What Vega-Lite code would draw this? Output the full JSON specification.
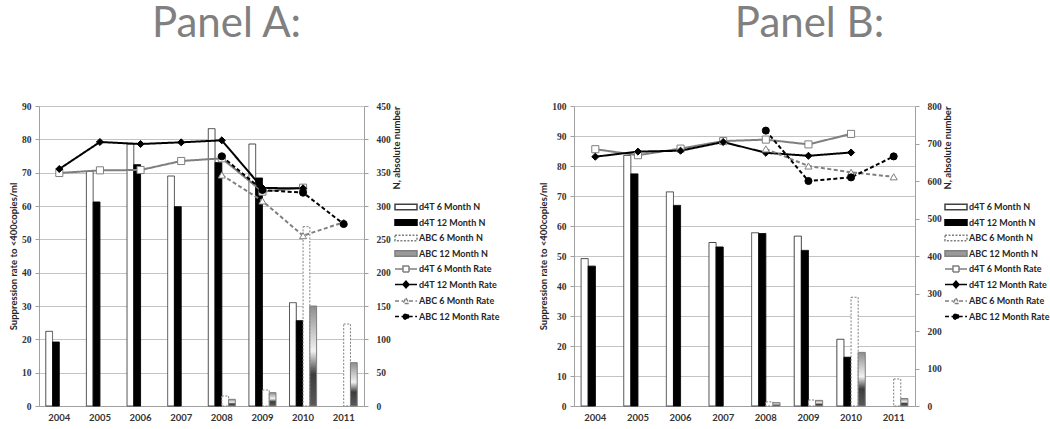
{
  "$schema": "https://vega.github.io/schema/vega-lite/v6.json",
  "padding": {"left": 8, "top": 3, "right": 0, "bottom": 0},
  "autosize": {"type": "pad"},
  "spacing": 38,
  "config": {
    "view": {"stroke": null},
    "font": "Lato",
    "axisX": {"title": null, "labelAngle": 0, "ticks": false, "labelFont": "Lato", "labelFontSize": 9.5, "labelFontWeight": "bold", "labelColor": "#333333", "labelPadding": 6, "domainColor": "#a0a0a0"},
    "axisY": {"labelFont": "Liberation Serif", "labelFontSize": 9.5, "labelFontWeight": "bold", "labelColor": "#333333", "tickSize": 4, "tickColor": "#a0a0a0", "domainColor": "#a0a0a0", "gridColor": "#c4c4c4", "titleFont": "Lato", "titleFontSize": 9.5, "titleFontWeight": "bold", "titleColor": "#262626", "labelOverlap": false},
    "legend": {"labelFont": "Lato", "labelFontSize": 9, "labelFontWeight": "bold", "labelColor": "#262626", "symbolSize": 144, "symbolStrokeWidth": 1.5, "rowPadding": 2.5, "labelOffset": 10}
  },
  "datasets": {
    "barsA": [
      {"year": "2004", "series": "d4T 6 Month N", "n": 112},
      {"year": "2005", "series": "d4T 6 Month N", "n": 352},
      {"year": "2006", "series": "d4T 6 Month N", "n": 393},
      {"year": "2007", "series": "d4T 6 Month N", "n": 345},
      {"year": "2008", "series": "d4T 6 Month N", "n": 416},
      {"year": "2009", "series": "d4T 6 Month N", "n": 393},
      {"year": "2010", "series": "d4T 6 Month N", "n": 155},
      {"year": "2004", "series": "d4T 12 Month N", "n": 96},
      {"year": "2005", "series": "d4T 12 Month N", "n": 306},
      {"year": "2006", "series": "d4T 12 Month N", "n": 362},
      {"year": "2007", "series": "d4T 12 Month N", "n": 299},
      {"year": "2008", "series": "d4T 12 Month N", "n": 365},
      {"year": "2009", "series": "d4T 12 Month N", "n": 342},
      {"year": "2010", "series": "d4T 12 Month N", "n": 128},
      {"year": "2008", "series": "ABC 6 Month N", "n": 15},
      {"year": "2009", "series": "ABC 6 Month N", "n": 24},
      {"year": "2010", "series": "ABC 6 Month N", "n": 269},
      {"year": "2011", "series": "ABC 6 Month N", "n": 123},
      {"year": "2008", "series": "ABC 12 Month N", "n": 10},
      {"year": "2009", "series": "ABC 12 Month N", "n": 20},
      {"year": "2010", "series": "ABC 12 Month N", "n": 150},
      {"year": "2011", "series": "ABC 12 Month N", "n": 65}
    ],
    "ratesA": [
      {"year": "2004", "series": "d4T 6 Month Rate", "rate": 69.9},
      {"year": "2005", "series": "d4T 6 Month Rate", "rate": 70.7},
      {"year": "2006", "series": "d4T 6 Month Rate", "rate": 70.8},
      {"year": "2007", "series": "d4T 6 Month Rate", "rate": 73.5},
      {"year": "2008", "series": "d4T 6 Month Rate", "rate": 74.3},
      {"year": "2009", "series": "d4T 6 Month Rate", "rate": 64.3},
      {"year": "2010", "series": "d4T 6 Month Rate", "rate": 65.5},
      {"year": "2004", "series": "d4T 12 Month Rate", "rate": 71.1},
      {"year": "2005", "series": "d4T 12 Month Rate", "rate": 79.2},
      {"year": "2006", "series": "d4T 12 Month Rate", "rate": 78.6},
      {"year": "2007", "series": "d4T 12 Month Rate", "rate": 79.1},
      {"year": "2008", "series": "d4T 12 Month Rate", "rate": 79.7},
      {"year": "2009", "series": "d4T 12 Month Rate", "rate": 65.4},
      {"year": "2010", "series": "d4T 12 Month Rate", "rate": 65.3},
      {"year": "2008", "series": "ABC 6 Month Rate", "rate": 69.3},
      {"year": "2009", "series": "ABC 6 Month Rate", "rate": 61.5},
      {"year": "2010", "series": "ABC 6 Month Rate", "rate": 51.1},
      {"year": "2011", "series": "ABC 6 Month Rate", "rate": 55.1},
      {"year": "2008", "series": "ABC 12 Month Rate", "rate": 74.9},
      {"year": "2009", "series": "ABC 12 Month Rate", "rate": 64.8},
      {"year": "2010", "series": "ABC 12 Month Rate", "rate": 64.0},
      {"year": "2011", "series": "ABC 12 Month Rate", "rate": 54.6}
    ],
    "barsB": [
      {"year": "2004", "series": "d4T 6 Month N", "n": 393},
      {"year": "2005", "series": "d4T 6 Month N", "n": 668},
      {"year": "2006", "series": "d4T 6 Month N", "n": 571},
      {"year": "2007", "series": "d4T 6 Month N", "n": 436},
      {"year": "2008", "series": "d4T 6 Month N", "n": 462},
      {"year": "2009", "series": "d4T 6 Month N", "n": 453},
      {"year": "2010", "series": "d4T 6 Month N", "n": 178},
      {"year": "2004", "series": "d4T 12 Month N", "n": 373},
      {"year": "2005", "series": "d4T 12 Month N", "n": 619},
      {"year": "2006", "series": "d4T 12 Month N", "n": 535},
      {"year": "2007", "series": "d4T 12 Month N", "n": 424},
      {"year": "2008", "series": "d4T 12 Month N", "n": 460},
      {"year": "2009", "series": "d4T 12 Month N", "n": 415},
      {"year": "2010", "series": "d4T 12 Month N", "n": 130},
      {"year": "2008", "series": "ABC 6 Month N", "n": 11},
      {"year": "2009", "series": "ABC 6 Month N", "n": 16},
      {"year": "2010", "series": "ABC 6 Month N", "n": 290},
      {"year": "2011", "series": "ABC 6 Month N", "n": 72},
      {"year": "2008", "series": "ABC 12 Month N", "n": 9},
      {"year": "2009", "series": "ABC 12 Month N", "n": 15},
      {"year": "2010", "series": "ABC 12 Month N", "n": 143},
      {"year": "2011", "series": "ABC 12 Month N", "n": 20}
    ],
    "ratesB": [
      {"year": "2004", "series": "d4T 6 Month Rate", "rate": 85.6},
      {"year": "2005", "series": "d4T 6 Month Rate", "rate": 83.6},
      {"year": "2006", "series": "d4T 6 Month Rate", "rate": 85.8},
      {"year": "2007", "series": "d4T 6 Month Rate", "rate": 88.3},
      {"year": "2008", "series": "d4T 6 Month Rate", "rate": 88.8},
      {"year": "2009", "series": "d4T 6 Month Rate", "rate": 87.2},
      {"year": "2010", "series": "d4T 6 Month Rate", "rate": 90.7},
      {"year": "2004", "series": "d4T 12 Month Rate", "rate": 83.1},
      {"year": "2005", "series": "d4T 12 Month Rate", "rate": 84.8},
      {"year": "2006", "series": "d4T 12 Month Rate", "rate": 85.1},
      {"year": "2007", "series": "d4T 12 Month Rate", "rate": 88.0},
      {"year": "2008", "series": "d4T 12 Month Rate", "rate": 84.4},
      {"year": "2009", "series": "d4T 12 Month Rate", "rate": 83.4},
      {"year": "2010", "series": "d4T 12 Month Rate", "rate": 84.5},
      {"year": "2008", "series": "ABC 6 Month Rate", "rate": 85.7},
      {"year": "2009", "series": "ABC 6 Month Rate", "rate": 80.0},
      {"year": "2010", "series": "ABC 6 Month Rate", "rate": 77.9},
      {"year": "2011", "series": "ABC 6 Month Rate", "rate": 76.4},
      {"year": "2008", "series": "ABC 12 Month Rate", "rate": 91.8},
      {"year": "2009", "series": "ABC 12 Month Rate", "rate": 75.0},
      {"year": "2010", "series": "ABC 12 Month Rate", "rate": 76.2},
      {"year": "2011", "series": "ABC 12 Month Rate", "rate": 83.2}
    ]
  },
  "resolve": {
    "scale": {"x": "independent", "y": "independent", "xOffset": "independent", "fill": "independent", "stroke": "independent", "strokeDash": "independent", "shape": "independent"},
    "legend": {"fill": "independent", "stroke": "independent", "strokeDash": "independent", "shape": "independent"}
  },
  "hconcat": [
    {
      "title": {"text": "Panel A:", "fontSize": 42, "font": "Lato", "fontWeight": "normal", "color": "#808080", "anchor": "middle", "frame": "group", "dx": 25, "offset": 22, "baseline": "alphabetic"},
      "width": 325,
      "height": 300,
      "layer": [
        {
          "layer": [
            {
              "data": {"name": "barsA"},
              "transform": [{"filter": "datum.series !== 'ABC 12 Month N'"}],
              "mark": {"type": "bar", "strokeWidth": 1},
              "encoding": {
                "x": {"field": "year", "type": "nominal", "scale": {"domain": ["2004","2005","2006","2007","2008","2009","2010","2011"], "paddingInner": 0, "paddingOuter": 0}},
                "xOffset": {"field": "series", "scale": {"domain": ["d4T 6 Month N","d4T 12 Month N","ABC 6 Month N","ABC 12 Month N"], "paddingInner": 0, "paddingOuter": 1.125}},
                "y": {"field": "n", "type": "quantitative", "scale": {"domain": [0, 450], "nice": false}, "axis": {"orient": "right", "values": [0,50,100,150,200,250,300,350,400,450], "grid": false, "title": "N, absolute number", "titleAngle": 270, "titleAnchor": "end", "titlePadding": 11, "labelPadding": 8}},
                "fill": {"field": "series", "scale": {"domain": ["d4T 6 Month N","d4T 12 Month N","ABC 6 Month N","ABC 12 Month N","d4T 6 Month Rate","d4T 12 Month Rate","ABC 6 Month Rate","ABC 12 Month Rate"], "range": ["#ffffff","#000000","#ffffff","#9a9a9a","#ffffff","#000000","#ffffff","#000000"]}, "legend": {"title": null, "orient": "none", "legendX": 356, "legendY": 94, "encode": {"symbols": {"update": {"shape": {"signal": "datum.value == 'd4T 6 Month Rate' ? 'M-1.167,0H0.167M1.167,0H2.5M0.167,-0.5H1.167V0.5H0.167Z' : datum.value == 'd4T 12 Month Rate' ? 'M-1.167,0H0.167M1.167,0H2.5M0.667,-0.55L1.167,0L0.667,0.55L0.167,0Z' : datum.value == 'ABC 6 Month Rate' ? 'M-1.167,0H0.167M1.167,0H2.5M0.667,-0.5L1.167,0.4L0.167,0.4Z' : datum.value == 'ABC 12 Month Rate' ? 'M-1.167,0H0.217M1.117,0H2.5M0.217,0A0.45,0.45 0 1,0 1.117,0A0.45,0.45 0 1,0 0.217,0Z' : 'M-1.167,-0.45H2.5V0.45H-1.167Z'"}}}}}},
                "stroke": {"field": "series", "scale": {"domain": ["d4T 6 Month N","d4T 12 Month N","ABC 6 Month N","ABC 12 Month N","d4T 6 Month Rate","d4T 12 Month Rate","ABC 6 Month Rate","ABC 12 Month Rate"], "range": ["#404040","#000000","#7f7f7f","#7f7f7f","#7f7f7f","#000000","#7f7f7f","#000000"]}, "legend": {"title": null, "orient": "none", "legendX": 356, "legendY": 94}},
                "strokeDash": {"field": "series", "scale": {"domain": ["d4T 6 Month N","d4T 12 Month N","ABC 6 Month N","ABC 12 Month N","d4T 6 Month Rate","d4T 12 Month Rate","ABC 6 Month Rate","ABC 12 Month Rate"], "range": [[1,0],[1,0],[2,1.5],[1,0],[1,0],[1,0],[4,2.5],[4,2.5]]}, "legend": {"title": null, "orient": "none", "legendX": 356, "legendY": 94}}
              }
            },
            {
              "data": {"name": "barsA"},
              "transform": [{"filter": "datum.series === 'ABC 12 Month N'"}],
              "mark": {"type": "bar", "strokeWidth": 1, "fill": {"gradient": "linear", "x1": 0, "y1": 0, "x2": 0, "y2": 1, "stops": [{"offset": 0, "color": "#8c8c8c"}, {"offset": 0.45, "color": "#f2f2f2"}, {"offset": 0.68, "color": "#3c3c3c"}, {"offset": 1, "color": "#5a5a5a"}]}},
              "encoding": {
                "x": {"field": "year", "type": "nominal"},
                "xOffset": {"field": "series"},
                "y": {"field": "n", "type": "quantitative", "axis": {"orient": "right", "values": [0,50,100,150,200,250,300,350,400,450], "grid": false, "title": "N, absolute number", "titleAngle": 270, "titleAnchor": "end", "titlePadding": 11, "labelPadding": 8}},
                "stroke": {"field": "series"}
              }
            }
          ]
        },
        {
          "layer": [
            {
              "data": {"name": "ratesA"},
              "mark": {"type": "line", "strokeWidth": 2},
              "encoding": {
                "x": {"field": "year", "type": "nominal"},
                "y": {"field": "rate", "type": "quantitative", "scale": {"domain": [0, 90], "nice": false}, "axis": {"orient": "left", "values": [0,10,20,30,40,50,60,70,80,90], "grid": true, "title": "Suppression rate to <400copies/ml", "titlePadding": 3, "labelPadding": 4}},
                "stroke": {"field": "series"},
                "strokeDash": {"field": "series"}
              }
            },
            {
              "data": {"name": "ratesA"},
              "mark": {"type": "point", "filled": true, "opacity": 1, "size": 50, "strokeWidth": 1},
              "encoding": {
                "x": {"field": "year", "type": "nominal"},
                "y": {"field": "rate", "type": "quantitative", "axis": {"orient": "left", "values": [0,10,20,30,40,50,60,70,80,90], "grid": true, "title": "Suppression rate to <400copies/ml", "titlePadding": 3, "labelPadding": 4}},
                "fill": {"field": "series"},
                "stroke": {"field": "series"},
                "shape": {"field": "series", "scale": {"domain": ["d4T 6 Month Rate","d4T 12 Month Rate","ABC 6 Month Rate","ABC 12 Month Rate"], "range": ["square","diamond","triangle-up","circle"]}, "legend": null}
              }
            }
          ]
        }
      ],
      "resolve": {"scale": {"y": "independent"}}
    },
    {
      "title": {"text": "Panel B:", "fontSize": 42, "font": "Lato", "fontWeight": "normal", "color": "#808080", "anchor": "middle", "frame": "group", "dx": 65, "offset": 22, "baseline": "alphabetic"},
      "width": 341,
      "height": 300,
      "layer": [
        {
          "layer": [
            {
              "data": {"name": "barsB"},
              "transform": [{"filter": "datum.series !== 'ABC 12 Month N'"}],
              "mark": {"type": "bar", "strokeWidth": 1},
              "encoding": {
                "x": {"field": "year", "type": "nominal", "scale": {"domain": ["2004","2005","2006","2007","2008","2009","2010","2011"], "paddingInner": 0, "paddingOuter": 0}},
                "xOffset": {"field": "series", "scale": {"domain": ["d4T 6 Month N","d4T 12 Month N","ABC 6 Month N","ABC 12 Month N"], "paddingInner": 0, "paddingOuter": 1.125}},
                "y": {"field": "n", "type": "quantitative", "scale": {"domain": [0, 800], "nice": false}, "axis": {"orient": "right", "values": [0,100,200,300,400,500,600,700,800], "grid": false, "title": "N, absolute number", "titleAngle": 270, "titleAnchor": "end", "titlePadding": 11, "labelPadding": 8}},
                "fill": {"field": "series", "scale": {"domain": ["d4T 6 Month N","d4T 12 Month N","ABC 6 Month N","ABC 12 Month N","d4T 6 Month Rate","d4T 12 Month Rate","ABC 6 Month Rate","ABC 12 Month Rate"], "range": ["#ffffff","#000000","#ffffff","#9a9a9a","#ffffff","#000000","#ffffff","#000000"]}, "legend": {"title": null, "orient": "none", "legendX": 371, "legendY": 94, "encode": {"symbols": {"update": {"shape": {"signal": "datum.value == 'd4T 6 Month Rate' ? 'M-1.167,0H0.167M1.167,0H2.5M0.167,-0.5H1.167V0.5H0.167Z' : datum.value == 'd4T 12 Month Rate' ? 'M-1.167,0H0.167M1.167,0H2.5M0.667,-0.55L1.167,0L0.667,0.55L0.167,0Z' : datum.value == 'ABC 6 Month Rate' ? 'M-1.167,0H0.167M1.167,0H2.5M0.667,-0.5L1.167,0.4L0.167,0.4Z' : datum.value == 'ABC 12 Month Rate' ? 'M-1.167,0H0.217M1.117,0H2.5M0.217,0A0.45,0.45 0 1,0 1.117,0A0.45,0.45 0 1,0 0.217,0Z' : 'M-1.167,-0.45H2.5V0.45H-1.167Z'"}}}}}},
                "stroke": {"field": "series", "scale": {"domain": ["d4T 6 Month N","d4T 12 Month N","ABC 6 Month N","ABC 12 Month N","d4T 6 Month Rate","d4T 12 Month Rate","ABC 6 Month Rate","ABC 12 Month Rate"], "range": ["#404040","#000000","#7f7f7f","#7f7f7f","#7f7f7f","#000000","#7f7f7f","#000000"]}, "legend": {"title": null, "orient": "none", "legendX": 371, "legendY": 94}},
                "strokeDash": {"field": "series", "scale": {"domain": ["d4T 6 Month N","d4T 12 Month N","ABC 6 Month N","ABC 12 Month N","d4T 6 Month Rate","d4T 12 Month Rate","ABC 6 Month Rate","ABC 12 Month Rate"], "range": [[1,0],[1,0],[2,1.5],[1,0],[1,0],[1,0],[4,2.5],[4,2.5]]}, "legend": {"title": null, "orient": "none", "legendX": 371, "legendY": 94}}
              }
            },
            {
              "data": {"name": "barsB"},
              "transform": [{"filter": "datum.series === 'ABC 12 Month N'"}],
              "mark": {"type": "bar", "strokeWidth": 1, "fill": {"gradient": "linear", "x1": 0, "y1": 0, "x2": 0, "y2": 1, "stops": [{"offset": 0, "color": "#8c8c8c"}, {"offset": 0.45, "color": "#f2f2f2"}, {"offset": 0.68, "color": "#3c3c3c"}, {"offset": 1, "color": "#5a5a5a"}]}},
              "encoding": {
                "x": {"field": "year", "type": "nominal"},
                "xOffset": {"field": "series"},
                "y": {"field": "n", "type": "quantitative", "axis": {"orient": "right", "values": [0,100,200,300,400,500,600,700,800], "grid": false, "title": "N, absolute number", "titleAngle": 270, "titleAnchor": "end", "titlePadding": 11, "labelPadding": 8}},
                "stroke": {"field": "series"}
              }
            }
          ]
        },
        {
          "layer": [
            {
              "data": {"name": "ratesB"},
              "mark": {"type": "line", "strokeWidth": 2},
              "encoding": {
                "x": {"field": "year", "type": "nominal"},
                "y": {"field": "rate", "type": "quantitative", "scale": {"domain": [0, 100], "nice": false}, "axis": {"orient": "left", "values": [0,10,20,30,40,50,60,70,80,90,100], "grid": true, "title": "Suppression rate to <400copies/ml", "titlePadding": 3, "labelPadding": 4}},
                "stroke": {"field": "series"},
                "strokeDash": {"field": "series"}
              }
            },
            {
              "data": {"name": "ratesB"},
              "mark": {"type": "point", "filled": true, "opacity": 1, "size": 50, "strokeWidth": 1},
              "encoding": {
                "x": {"field": "year", "type": "nominal"},
                "y": {"field": "rate", "type": "quantitative", "axis": {"orient": "left", "values": [0,10,20,30,40,50,60,70,80,90,100], "grid": true, "title": "Suppression rate to <400copies/ml", "titlePadding": 3, "labelPadding": 4}},
                "fill": {"field": "series"},
                "stroke": {"field": "series"},
                "shape": {"field": "series", "scale": {"domain": ["d4T 6 Month Rate","d4T 12 Month Rate","ABC 6 Month Rate","ABC 12 Month Rate"], "range": ["square","diamond","triangle-up","circle"]}, "legend": null}
              }
            }
          ]
        }
      ],
      "resolve": {"scale": {"y": "independent"}}
    }
  ]
}
